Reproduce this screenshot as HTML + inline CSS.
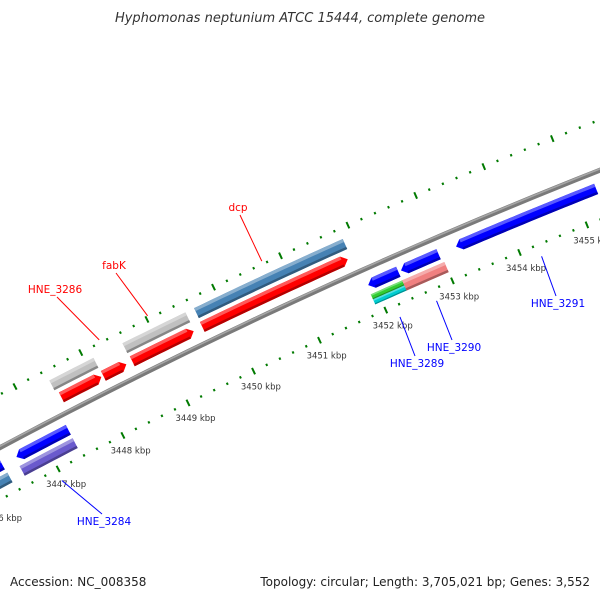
<!DOCTYPE html>
<html><head><meta charset="utf-8"><style>
html,body{margin:0;padding:0;background:#fff;width:600px;height:600px;overflow:hidden}
svg{display:block;font-family:"DejaVu Sans","Liberation Sans",sans-serif}
</style></head><body>
<svg id="map" width="600" height="600" viewBox="0 0 600 600" xmlns="http://www.w3.org/2000/svg">
<text x="300" y="22" text-anchor="middle" font-size="13" font-style="italic" fill="#333">Hyphomonas neptunium ATCC 15444, complete genome</text>
<text x="10" y="586" font-size="12" fill="#222">Accession: NC_008358</text>
<text x="590" y="586" text-anchor="end" font-size="12" fill="#222">Topology: circular; Length: 3,705,021 bp; Genes: 3,552</text>
<g id="layer"></g>
</svg>
<script>
// data
const featStart = [3447490,3448130,3448570,3449630, 3447450,3448560,3449640, 3445000,3446570,3451920,3452410,3453230, 3445000,3446550,3451900,3451900,3452370];
const featEnd   = [3448100,3448480,3449500,3451810, 3448120,3449510,3451860, 3446350,3447370,3452370,3452970,3455300, 3446360,3447370,3452380,3452380,3453000];
const featStrand= [1,1,1,1, 1,1,1, -1,-1,-1,-1,-1, -1,-1,-1,-1,-1];
const featSlot  = [1,1,1,1, 2,2,2, 1,1,1,1,1, 2,2,2,2,2];
const featHalf  = [0,0,0,0, 0,0,0, 0,0,0,0,0, 0,0,1,2,0];
const featArrow = [1,1,1,1, 0,0,0, 1,1,1,1,1, 0,0,0,0,0];
const featColor = ['#ff0000','#ff0000','#ff0000','#ff0000','#c0c0c0','#c0c0c0','#4682b4','#0000ff','#0000ff','#0000ff','#0000ff','#0000ff','#4682b4','#6a5acd','#32cd32','#00cdd0','#f08080'];
const labelText = ['dcp','fabK','HNE_3286','HNE_3284','HNE_3289','HNE_3290','HNE_3291'];
const labelBp   = [3450740,3449030,3448300,3446970,3452140,3452690,3454260];
const labelStrand=[1,1,1,-1,-1,-1,-1];
const labelX    = [238,114,55,104,417,454,558];
const labelY    = [207,265,289,521,363,347,303];
const tickStartKbp = 3445, tickEndKbp = 3457;
const tickLabelKbp = [3446,3447,3448,3449,3450,3451,3452,3453,3454,3455];

// axis / geometry
const CX=2730.2, CY=5564.4, R0=5799.6;
const TH0=Math.atan2(298-CY,300-CX);
const K=73.4/R0; // rad per kbp
function ang(bp){return TH0+(bp/1000-3451)*K;}
function pt(bp,off){const t=ang(bp),r=R0+off;return [CX+r*Math.cos(t),CY+r*Math.sin(t)];}
const NS='http://www.w3.org/2000/svg';
const layer=document.getElementById('layer');
function mk(tag,attrs){const e=document.createElementNS(NS,tag);for(const k in attrs)e.setAttribute(k,attrs[k]);return e;}
function band(s,e,o1,o2){const pts=[];const n=Math.max(2,Math.ceil((e-s)/100));
 for(let i=0;i<=n;i++)pts.push(pt(s+(e-s)*i/n,o2));
 for(let i=n;i>=0;i--)pts.push(pt(s+(e-s)*i/n,o1));return pts;}
function ptsStr(a){return a.map(p=>p[0].toFixed(2)+','+p[1].toFixed(2)).join(' ');}
function shade(c,f){const n=parseInt(c.slice(1),16);let r=n>>16,g=(n>>8)&255,b=n&255;
 if(f>0){r+=(255-r)*f;g+=(255-g)*f;b+=(255-b)*f;}else{r*=1+f;g*=1+f;b*=1+f;}
 return 'rgb('+Math.round(r)+','+Math.round(g)+','+Math.round(b)+')';}

// tick rings
const ringOff=[47,-46];
ringOff.forEach((ro,ri)=>{
 for(let bp=tickStartKbp*1000;bp<=tickEndKbp*1000;bp+=200){
  const major=(bp%1000===0);const L=major?7:2.4;
  const a=pt(bp,ro-L/2),b=pt(bp,ro+L/2);
  const l=mk('line',{x1:a[0],y1:a[1],x2:b[0],y2:b[1],stroke:'#007a00','stroke-width':major?2:2});
  
  
  layer.appendChild(l);
 }
});
tickLabelKbp.forEach(kb=>{
 const p=pt(kb*1000,-63);
 const t=mk('text',{x:p[0],y:p[1]+3,'text-anchor':'middle','font-size':'8.5',fill:'#333'});
 t.textContent=kb+' kbp';
 
 
 layer.appendChild(t);
});

// backbone
(function(){
 const a=[];for(let bp=3444500;bp<=3457500;bp+=200)a.push(pt(bp,0));
 const d='M'+a.map(p=>p[0].toFixed(2)+' '+p[1].toFixed(2)).join(' L');
 const p1=mk('path',{d:d,fill:'none',stroke:'#7a7a7a','stroke-width':5});
 
 
 layer.appendChild(p1);
 const b=[];for(let bp=3444500;bp<=3457500;bp+=200)b.push(pt(bp,1.2));
 const p2=mk('path',{d:'M'+b.map(p=>p[0].toFixed(2)+' '+p[1].toFixed(2)).join(' L'),fill:'none',stroke:'#a6a6a6','stroke-width':1.6});
 
 
 layer.appendChild(p2);
})();

// features
const H=11, AL=80;
featStart.forEach((s,i)=>{
 const e=featEnd[i],st=featStrand[i],c=featColor[i];
 const center=st*(featSlot[i]===1?16:31);
 let lo=center-H/2,hi=center+H/2;
 if(featHalf[i]===1){lo=center;} // half nearer outer side of slot (closer to backbone for reverse)
 if(featHalf[i]===2){hi=center;}
 if(featHalf[i]===1&&st<0){lo=center;hi=center+H/2;}
 if(featHalf[i]===2&&st<0){lo=center-H/2;hi=center;}
 const g=mk('g',{});
 
 
 let shape;
 if(featArrow[i]){
  if(st>0){const bs=s,be=e-AL;const body=band(bs,be,lo,hi);
   const outer=body.slice(0,body.length/2),inner=body.slice(body.length/2);
   shape=outer.concat([pt(e,center)]).concat(inner);}
  else{const bs=s+AL,be=e;const body=band(bs,be,lo,hi);
   const outer=body.slice(0,body.length/2),inner=body.slice(body.length/2);
   shape=outer.concat(inner).concat([pt(s,center)]);}
 } else shape=band(s,e,lo,hi);
 g.appendChild(mk('polygon',{points:ptsStr(shape),fill:c}));
 const h=hi-lo;
 const bs=featArrow[i]&&st<0?s+AL:s, be=featArrow[i]&&st>0?e-AL:e;
 g.appendChild(mk('polygon',{points:ptsStr(band(bs,be,hi-h*0.3,hi)),fill:shade(c,0.35)}));
 g.appendChild(mk('polygon',{points:ptsStr(band(bs,be,lo,lo+h*0.22)),fill:shade(c,-0.3)}));
 layer.appendChild(g);
});

// labels
labelText.forEach((txt,i)=>{
 const st=labelStrand[i];const col=st>0?'#ff0000':'#0000ff';
 const a=pt(labelBp[i],st>0?50:-58);
 const ly=labelY[i]+(st>0?8:-7);
 const l=mk('line',{x1:a[0],y1:a[1],x2:labelX[i]+(st>0?2:-2),y2:ly,stroke:col,'stroke-width':1});
 
 
 layer.appendChild(l);
 const t=mk('text',{x:labelX[i],y:labelY[i]+4,'text-anchor':'middle','font-size':'10.5',fill:col});
 t.textContent=txt;
 
 
 layer.appendChild(t);
});
</script>
</body></html>
